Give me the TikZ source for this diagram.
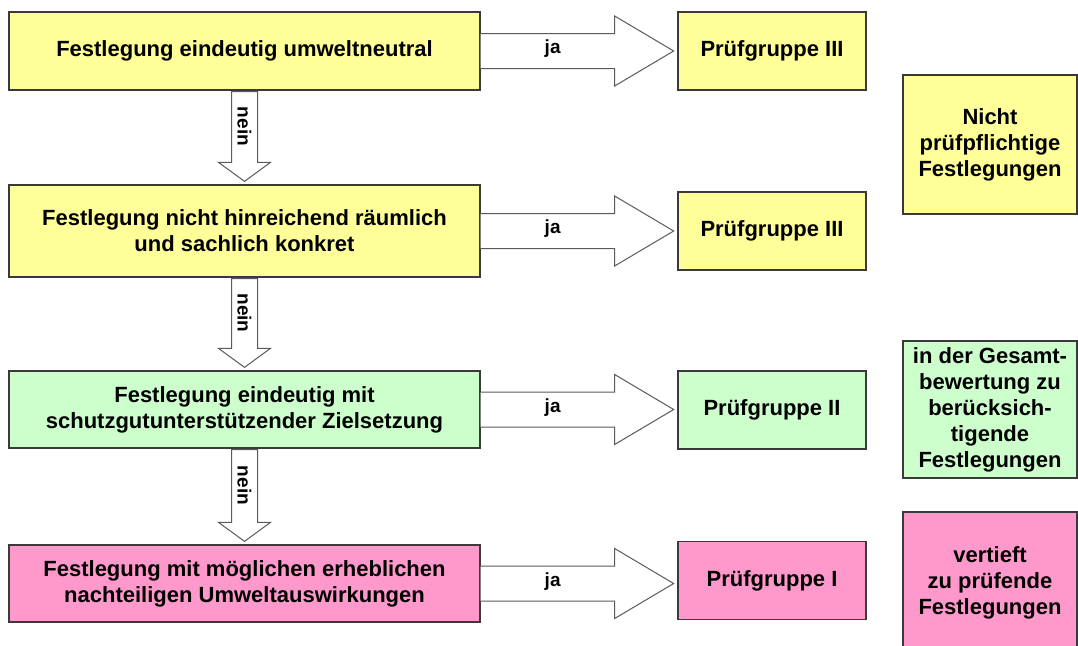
\documentclass[tikz,border=0pt]{standalone}
\usepackage{fontspec}
\setmainfont{Liberation Sans}
\usetikzlibrary{calc}
\definecolor{cyellow}{HTML}{FFFF99}
\definecolor{cgreen}{HTML}{CCFFCC}
\definecolor{cpink}{HTML}{FF99CC}
\definecolor{cborder}{HTML}{3A3A3A}
\definecolor{carrow}{HTML}{5A5A5A}
\tikzset{
  box/.style={draw=cborder, line width=1.3pt, inner sep=0pt, align=center,
    font=\fontsize{22}{26}\selectfont\bfseries},
  leftbox/.style={box, minimum width=471pt},
  pbox/.style={box, minimum width=188pt, minimum height=78pt},
  rbox/.style={box, minimum width=174pt},
  blockarrow/.style={draw=carrow, line width=1pt, fill=white, line join=miter},
  arrlabel/.style={inner sep=0pt, font=\fontsize{19}{22}\selectfont\bfseries}
}
\newcommand\RArrow[2]{%
  \draw[blockarrow] ($(#1.east)+(0,-17.5)$) -- ($(#1.east)+(134,-17.5)$)
    -- ($(#1.east)+(134,-35)$) -- ($(#1.east)+(193,0)$)
    -- ($(#1.east)+(134,35)$) -- ($(#1.east)+(134,17.5)$)
    -- ($(#1.east)+(0,17.5)$);
  \node[arrlabel] (ja#1) at ($(#1.east)+(72,-2)$) {ja};}
\newcommand\DArrow[2]{%
  \coordinate (h#1) at ($(#2.north)+(0,-22)$);
  \draw[blockarrow] ($(#1.south)+(-13,1)$) -- ($(h#1)+(-13,0)$)
    -- ($(h#1)+(-26,0)$) -- ($(#2.north)+(0,-3)$)
    -- ($(h#1)+(26,0)$) -- ($(h#1)+(13,0)$)
    -- ($(#1.south)+(13,1)$) -- cycle;
  \node[arrlabel, rotate=-90] (nein#1) at ($(#1.south)!0.5!(h#1)$) {nein};}
\begin{document}
\begin{tikzpicture}[x=1pt, y=-1pt]
\useasboundingbox (0,0) rectangle (1078,645);
\begin{scope}
\clip (0,0) rectangle (1078,645);
% left column
\node[leftbox, fill=cyellow, minimum height=78pt] (b1) at (244.5,51) {Festlegung eindeutig umweltneutral};
\node[leftbox, fill=cyellow, minimum height=92pt] (b2) at (244.5,231) {Festlegung nicht hinreichend räumlich\\und sachlich konkret};
\node[leftbox, fill=cgreen, minimum height=77pt] (b3) at (244.5,409.5) {Festlegung eindeutig mit\\schutzgutunterstützender Zielsetzung};
\node[leftbox, fill=cpink, minimum height=77pt] (b4) at (244.5,583.5) {Festlegung mit möglichen erheblichen\\nachteiligen Umweltauswirkungen};
% middle column
\node[pbox, fill=cyellow] (p1) at (772,51) {Prüfgruppe III};
\node[pbox, fill=cyellow] (p2) at (772,231) {Prüfgruppe III};
\node[pbox, fill=cgreen] (p3) at (772,410) {Prüfgruppe II};
\node[pbox, fill=cpink] (p4) at (772,580.5) {Prüfgruppe I};
% right column
\node[rbox, fill=cyellow, minimum height=139pt] (r1) at (990,144.5) {Nicht\\prüfpflichtige\\Festlegungen};
\node[rbox, fill=cgreen, minimum height=137pt] (r2) at (990,409.5) {in der Gesamt-\\bewertung zu\\berücksich-\\tigende\\Festlegungen};
\node[rbox, fill=cpink, minimum height=142pt] (r3) at (990,583) {vertieft\\zu prüfende\\Festlegungen};
% arrows
\RArrow{b1}{p1}
\RArrow{b2}{p2}
\RArrow{b3}{p3}
\RArrow{b4}{p4}
\DArrow{b1}{b2}
\DArrow{b2}{b3}
\DArrow{b3}{b4}
\end{scope}
\end{tikzpicture}
\end{document}
